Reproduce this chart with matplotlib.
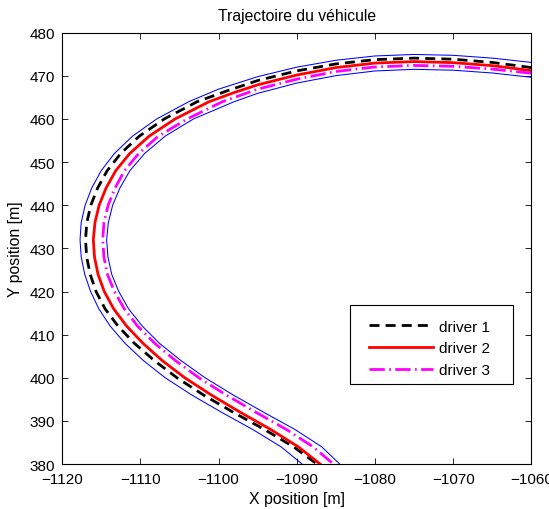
import matplotlib
matplotlib.use("Agg")
import matplotlib.pyplot as plt
from matplotlib.patches import Rectangle

plt.rcParams['font.family'] = ['Liberation Sans', 'DejaVu Sans']

# shared y levels on the left part of the bend
y_left = [464, 460, 456, 452, 448, 444, 440, 436, 432, 428, 424, 420, 416,
          412, 408, 404, 400, 396, 392, 388, 384, 380]

# road boundaries
outer_x = [-1060, -1065, -1070, -1075, -1080, -1085, -1090, -1095, -1100,
           -1103.8, -1107.9, -1111.0, -1113.3, -1115.0, -1116.2, -1117.05, -1117.55,
           -1117.7, -1117.55, -1117.1, -1116.35, -1115.3, -1113.85, -1111.95, -1109.6,
           -1106.8, -1103.4, -1099.6, -1095.6, -1092.0, -1089.3]
outer_y = [473.1, 474.1, 474.75, 474.95, 474.6, 473.6, 472.0, 469.8, 466.9] + y_left

inner_x = [-1060, -1065, -1070, -1075, -1080, -1085, -1090, -1095,
           -1098.0, -1103.2, -1106.83, -1109.44, -1111.33, -1112.6, -1113.53, -1114.08,
           -1114.3, -1114.13, -1113.65, -1112.75, -1111.5, -1109.75, -1107.55, -1104.8,
           -1101.7, -1098.1, -1094.2, -1090.2, -1086.8, -1084.5]
inner_y = [469.65, 470.65, 471.3, 471.5, 471.12, 470.04, 468.31, 465.93] + y_left

# driver trajectories
d1_x = [-1060, -1065, -1070, -1075, -1080, -1085, -1090, -1095, -1099,
        -1102.73, -1106.93, -1110.13, -1112.5, -1114.23, -1115.45, -1116.32, -1116.83,
        -1117.0, -1116.85, -1116.4, -1115.65, -1114.5, -1112.85, -1110.75, -1108.2,
        -1105.3, -1101.9, -1098.1, -1094.1, -1090.4, -1087.4]
d1_y = [471.9, 473.1, 473.85, 474.1, 473.75, 472.75, 471.14, 468.9, 466.46] + y_left

d2_x = [-1060, -1065, -1070, -1075, -1080, -1085, -1090, -1095, -1098,
        -1101.2, -1105.55, -1108.88, -1111.34, -1113.14, -1114.37, -1115.26, -1115.79,
        -1116.0, -1115.85, -1115.4, -1114.6, -1113.4, -1111.75, -1109.65, -1107.2,
        -1104.3, -1100.9, -1097.2, -1093.3, -1089.8, -1087.0]
d2_y = [471.2, 472.35, 473.05, 473.3, 472.95, 471.9, 470.18, 467.9, 466.12] + y_left

d3_x = [-1060, -1065, -1070, -1075, -1080, -1085, -1090, -1095,
        -1099.5, -1104.0, -1107.7, -1110.2, -1112.02, -1113.22, -1114.11, -1114.64,
        -1114.8, -1114.65, -1114.2, -1113.3, -1112.05, -1110.35, -1108.15, -1105.5,
        -1102.5, -1099.0, -1095.2, -1091.3, -1087.9, -1085.3]
d3_y = [470.6, 471.55, 472.2, 472.4, 472.05, 471.0, 469.22, 466.9] + y_left

labels = ['driver 1', 'driver 2', 'driver 3']

fig = plt.figure(figsize=(5.49, 5.10), dpi=100)
ax = fig.add_axes([0.113, 0.088, 0.855, 0.846])

ax.plot(outer_x, outer_y, color='blue', lw=0.75)
ax.plot(inner_x, inner_y, color='blue', lw=0.75)
ax.plot(d1_x, d1_y, color='black', ls=(0, (3.6, 2.2)), lw=2, label=labels[0])
ax.plot(d2_x, d2_y, color='red', ls='-', lw=2, label=labels[1])
ax.plot(d3_x, d3_y, color='magenta', ls=(0, (5.5, 1.6, 0.6, 1.6)), lw=2, label=labels[2])

ax.set_xlim(-1120, -1060)
ax.set_ylim(380, 480)
ax.set_xticks(range(-1120, -1059, 10))
ax.set_yticks(range(380, 481, 10))
ax.tick_params(direction='in', top=True, right=True, labelsize=11, length=4, width=0.6)
ax.tick_params(axis='x', pad=6)
ax.tick_params(axis='y', pad=5)
for s in ax.spines.values():
    s.set_linewidth(0.8)

ax.set_xlabel('X position [m]', fontsize=11.4, labelpad=3)
ax.set_ylabel('Y position [m]', fontsize=11.4, labelpad=5)
ax.set_title('Trajectoire du véhicule', fontsize=11.3, pad=9)

# legend box drawn separately (wider on the right, like the original)
ax.add_patch(Rectangle((0.613, 0.185), 0.348, 0.184, transform=ax.transAxes,
                       facecolor='white', edgecolor='black', lw=0.8, zorder=4))
leg = ax.legend(loc='upper left', bbox_to_anchor=(0.620, 0.372), fontsize=11,
                frameon=False, handlelength=4.2, handletextpad=0.4,
                borderpad=0.55, labelspacing=0.5)
leg.set_zorder(5)

fig.savefig('out.png', dpi=100)
